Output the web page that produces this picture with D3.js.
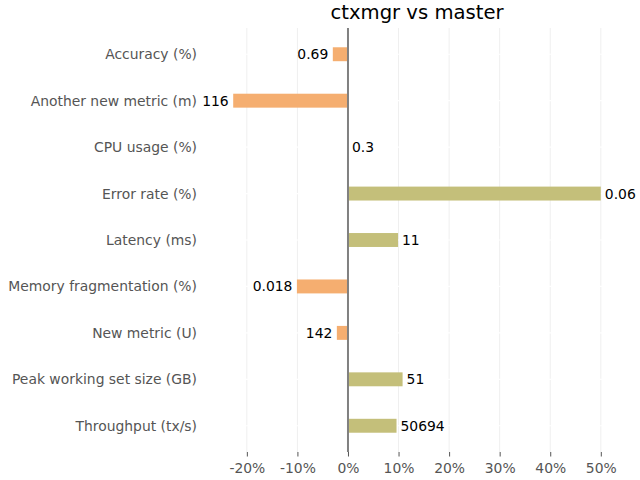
<!DOCTYPE html>
<html>
<head>
<meta charset="utf-8">
<script src="https://cdn.jsdelivr.net/npm/d3@7/dist/d3.min.js"></script>
<style>
html,body{margin:0;padding:0;background:#fff;}
svg{display:block;font-family:"DejaVu Sans",sans-serif;}
</style>
</head>
<body>
<svg id="chart" width="640" height="480"></svg>
<script>
const categories = ["Accuracy (%)","Another new metric (m)","CPU usage (%)","Error rate (%)","Latency (ms)","Memory fragmentation (%)","New metric (U)","Peak working set size (GB)","Throughput (tx/s)"];
const changes = [-3.0, -22.7, 0.0, 50.0, 9.9, -10.1, -2.2, 10.8, 9.6];
const valueLabels = ["0.69","116","0.3","0.06","11","0.018","142","51","50694"];
const xTicks = [-20,-10,0,10,20,30,40,50];
const title = "ctxmgr vs master";

(function(){
const svg = d3.select("#chart");
const pL = 215, pR = 619, pT = 28, pB = 452;
const ylo = -0.565, yhi = categories.length - 1 + 0.565;

const x = d3.scaleLinear().domain([-26.3, 53.6]).range([pL, pR]);
const y = d3.scaleLinear().domain([ylo, yhi]).range([pT, pB]);
const barH = (y(0.15) - y(-0.15));

// vertical grid
svg.append("g").selectAll("line").data(xTicks).join("line")
  .attr("x1", d => x(d)).attr("x2", d => x(d))
  .attr("y1", pT).attr("y2", pB)
  .attr("stroke", "#efefef").attr("stroke-width", 1);

// horizontal white grid
svg.append("g").selectAll("line").data(categories).join("line")
  .attr("x1", pL).attr("x2", pR)
  .attr("y1", (d,i) => y(i)).attr("y2", (d,i) => y(i))
  .attr("stroke", "#fff").attr("stroke-width", 1.2);

// bars
svg.append("g").selectAll("rect").data(changes).join("rect")
  .attr("x", d => x(Math.min(0, d)))
  .attr("width", d => Math.abs(x(d) - x(0)))
  .attr("y", (d,i) => y(i) - barH/2)
  .attr("height", barH)
  .attr("fill", d => d < 0 ? "#f5ae70" : "#c4bf7a");

// zero line
svg.append("line")
  .attr("x1", x(0)).attr("x2", x(0)).attr("y1", pT).attr("y2", pB)
  .attr("stroke", "#808080").attr("stroke-width", 2);

// value labels
svg.append("g").selectAll("text").data(changes).join("text")
  .attr("x", d => d < 0 ? x(d) - 4.5 : x(d) + 4)
  .attr("y", (d,i) => y(i) + 5)
  .attr("text-anchor", d => d < 0 ? "end" : "start")
  .attr("font-size", "13.9px").attr("fill", "#000")
  .text((d,i) => valueLabels[i]);

// y labels
svg.append("g").selectAll("text").data(categories).join("text")
  .attr("x", 197).attr("y", (d,i) => y(i) + 5)
  .attr("text-anchor", "end")
  .attr("font-size", "13.9px").attr("fill", "#555")
  .text(d => d);

// x axis
const xAxis = d3.axisBottom(x).tickValues(xTicks).tickSize(4.5).tickPadding(6.5).tickFormat(d => d + "%");
const gx = svg.append("g").attr("transform", `translate(0,${pB})`).call(xAxis);
gx.select(".domain").remove();
gx.selectAll(".tick line").attr("stroke", "#555");
gx.selectAll(".tick text").attr("fill", "#555").attr("font-size", "13.9px").attr("font-family", "DejaVu Sans, sans-serif");

// title
svg.append("text").attr("x", (pL + pR)/2).attr("y", 19)
  .attr("text-anchor", "middle").attr("font-size", "19.6px").attr("fill", "#000")
  .text(title);
})();
</script>
</body>
</html>
